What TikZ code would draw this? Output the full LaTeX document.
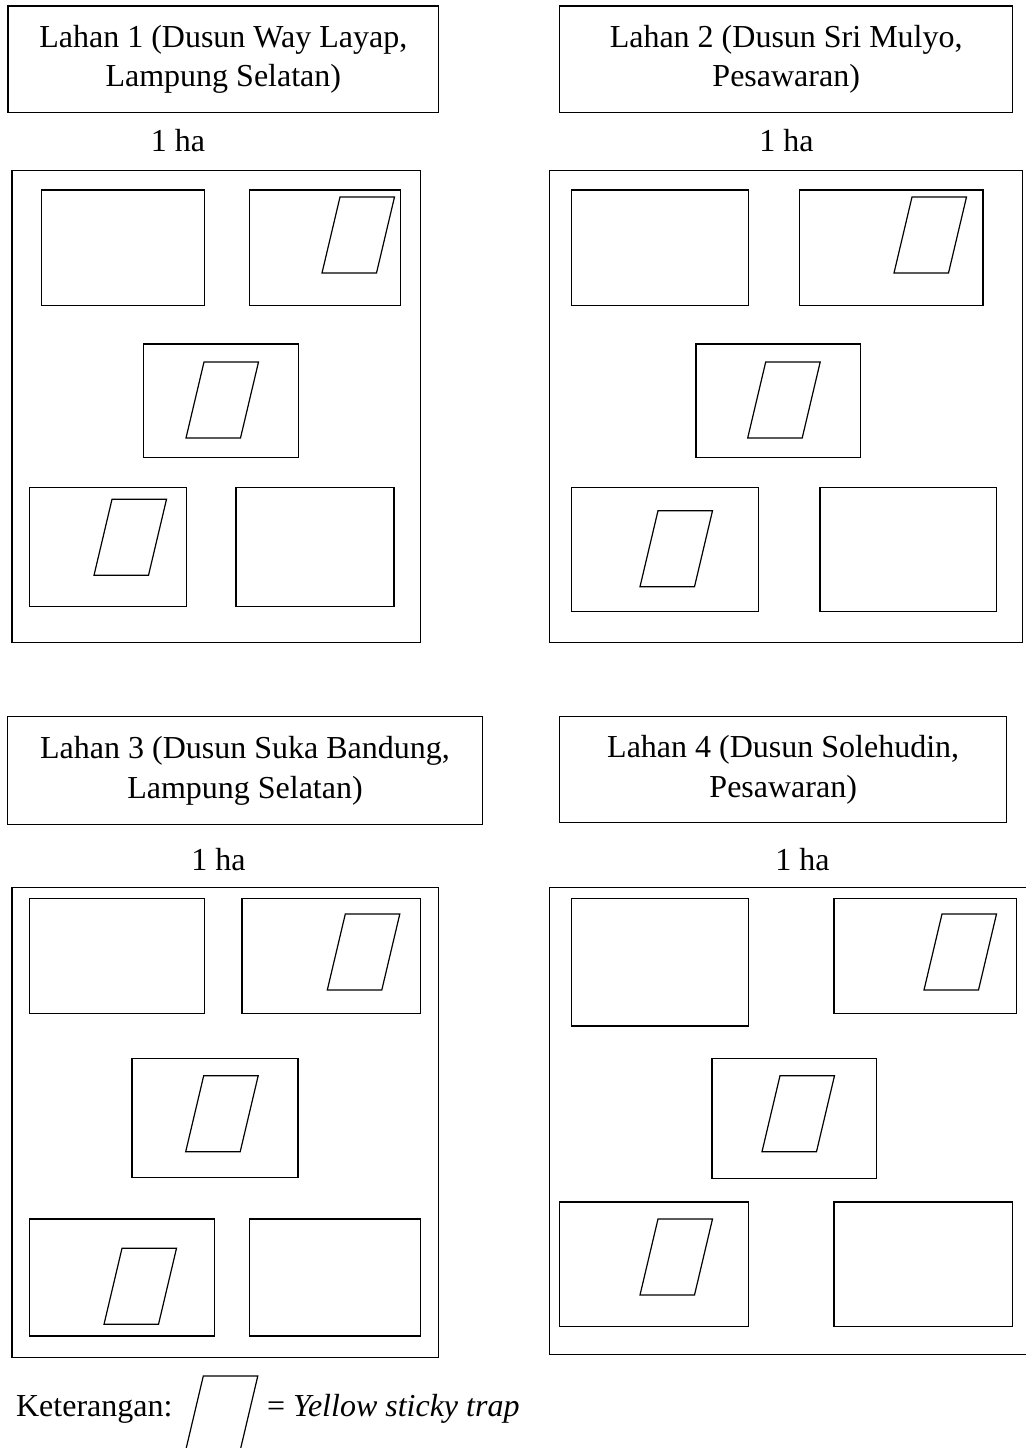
\documentclass[tikz,border=0pt]{standalone}
\usepackage{fontspec}
\setmainfont{Liberation Serif}
\usetikzlibrary{calc}

\tikzset{
  garis/.style={draw=black, line width=0.6pt},
  teks/.style={font=\fontsize{16}{19.8}\selectfont, align=center, inner sep=0pt},
}
% yellow sticky trap: top-left corner x, top y
\newcommand{\perangkap}[2]{\draw[garis] (#1,#2) -- ++(54.5,0) -- ++(-18,76) -- ++(-54.5,0) -- cycle;}

\begin{document}
\begin{tikzpicture}[x=0.5pt, y=-0.5pt]
  \useasboundingbox (0,0) rectangle (1025,1448);

  % kotak judul
  \foreach \xa/\ya/\xb/\yb in {8/6/438.5/112.7, 559.7/6/1012.7/112.7,
                               7.3/716.7/482.7/824.7, 559.7/716.7/1006.7/822.7}
    \draw[garis] (\xa,\ya) rectangle (\xb,\yb);
  \node[teks] (judul1) at (223.3,59.4) {Lahan 1 (Dusun Way Layap,\\Lampung Selatan)};
  \node[teks] (judul2) at (786.2,59.4) {Lahan 2 (Dusun Sri Mulyo,\\Pesawaran)};
  \node[teks] (judul3) at (245,770.7) {Lahan 3 (Dusun Suka Bandung,\\Lampung Selatan)};
  \node[teks] (judul4) at (783.2,769.7) {Lahan 4 (Dusun Solehudin,\\Pesawaran)};

  % luas lahan
  \node[teks, anchor=base] (luas1) at (178,151.7) {1 ha};
  \node[teks, anchor=base] (luas2) at (786.5,151.7) {1 ha};
  \node[teks, anchor=base] (luas3) at (218.5,870) {1 ha};
  \node[teks, anchor=base] (luas4) at (802.5,870) {1 ha};

  % batas lahan
  \foreach \xa/\ya/\xb/\yb in {12/170.7/420.5/642.3, 549.7/170.7/1022.7/642.3,
                               12/887.7/438.7/1357.7, 549.7/887.7/1030/1354.3}
    \draw[garis] (\xa,\ya) rectangle (\xb,\yb);

  % petak
  \foreach \xa/\ya/\xb/\yb in {
      41.7/190/204.5/305.7, 249.7/190/400.5/305.7, 143.7/344/298.3/457.7,
      29.7/487.7/186.3/606.3, 236/487.7/394/606.3,
      571.7/190/748.7/305.7, 799.7/190/983/305.7, 696/344/860.7/457.7,
      571.7/487.7/758.7/611.3, 820/487.7/996.7/611.3,
      29.7/898.3/204.3/1013.3, 242/898.3/420.3/1013.3, 132/1058.3/298/1177.7,
      29.7/1219/214.3/1336, 249.7/1219/420.7/1336,
      571.7/898.3/748.7/1026, 834/898.3/1016.7/1013.3, 712/1058.3/876.3/1178.3,
      559.7/1202/748.7/1326.3, 834/1202/1012.7/1326.3}
    \draw[garis] (\xa,\ya) rectangle (\xb,\yb);

  % perangkap
  \perangkap{340}{197}
  \perangkap{204}{362}
  \perangkap{112}{499.3}
  \perangkap{912}{197}
  \perangkap{765.7}{362}
  \perangkap{658}{510.7}
  \perangkap{345.3}{914}
  \perangkap{203.7}{1075.7}
  \perangkap{122}{1248.3}
  \perangkap{942}{914}
  \perangkap{780}{1075.7}
  \perangkap{658}{1219}

  % keterangan
  \node[teks, anchor=base west] (ket) at (15.7,1416.7) {Keterangan:};
  \perangkap{203.3}{1376}
  \node[teks, anchor=base west] (ketYST) at (266.7,1416.7) {= \textit{Yellow sticky trap}};
\end{tikzpicture}
\end{document}
